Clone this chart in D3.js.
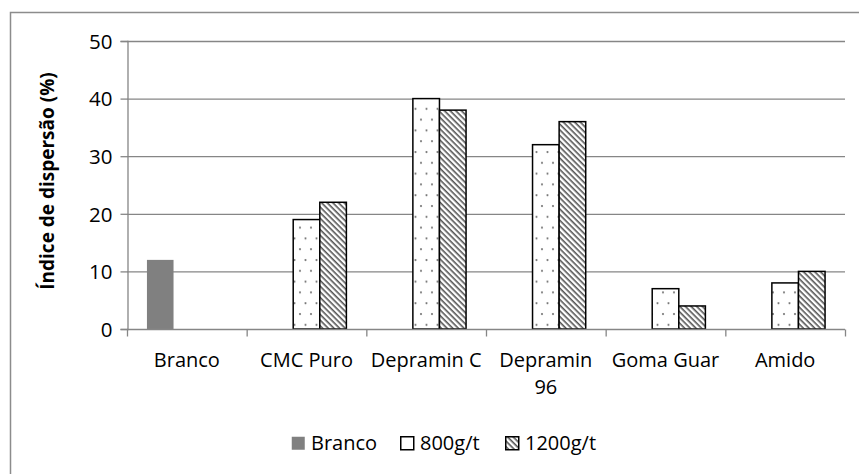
<!DOCTYPE html>
<html>
<head>
<meta charset="utf-8">
<script src="https://cdn.jsdelivr.net/npm/d3@7"></script>
<style>
  body { margin: 0; background: #fff; }
  text { font-family: "Open Sans", sans-serif; fill: #000; }
</style>
</head>
<body>
<div id="chart"></div>
<script>
// data
var categories = ["Branco", "CMC Puro", "Depramin C", "Depramin 96", "Goma Guar", "Amido"];
var seriesNames = ["Branco", "800g/t", "1200g/t"];
var branco = [12, null, null, null, null, null];
var g800 = [null, 19, 40, 32, 7, 8];
var g1200 = [null, 22, 38, 36, 4, 10];
var yTicks = [0, 10, 20, 30, 40, 50];

var seriesValues = [branco, g800, g1200];

data = [];
for (var i = 0; i < categories.length; i++) {
	seriesNames.forEach(function(s, j) {
		if (seriesValues[j][i] != null) {
			data.push({ cat: categories[i], series: s, value: seriesValues[j][i] });
		}
	});
}

var W = 859, H = 474;
var margin = { top: 41, right: 14, bottom: 145, left: 127 };
var width = W - margin.left - margin.right;
var height = H - margin.top - margin.bottom;

var svg = d3.select("#chart").append("svg")
	.attr("width", W)
	.attr("height", H);

// patterns for the two dosage series
var defs = svg.append("defs");
var dots = defs.append("pattern")
	.attr("id", "dots")
	.attr("patternUnits", "userSpaceOnUse")
	.attr("width", 11)
	.attr("height", 21.6);
dots.append("rect").attr("width", 11).attr("height", 21.6).attr("fill", "#fff");
dots.append("circle").attr("cx", 2.5).attr("cy", 3).attr("r", 1.1).attr("fill", "#777");
dots.append("circle").attr("cx", 8).attr("cy", 13.8).attr("r", 1.1).attr("fill", "#777");

var hatch = defs.append("pattern")
	.attr("id", "hatch")
	.attr("patternUnits", "userSpaceOnUse")
	.attr("width", 4)
	.attr("height", 4)
	.attr("patternTransform", "rotate(45)");
hatch.append("rect").attr("width", 4).attr("height", 4).attr("fill", "#fff");
hatch.append("rect").attr("width", 4).attr("height", 1.6).attr("fill", "#555");

var fills = { "Branco": "#808080", "800g/t": "url(#dots)", "1200g/t": "url(#hatch)" };
var strokes = { "Branco": "none", "800g/t": "#000", "1200g/t": "#000" };

// outer chart border (only top and left visible in the crop)
svg.append("path")
	.attr("d", "M10.5," + H + "V12.5H" + W)
	.attr("fill", "none")
	.attr("stroke", "#8c8c8c")
	.attr("stroke-width", 1.5);

var chartGroup = svg.append("g")
	.attr("transform", "translate(" + margin.left + "," + margin.top + ")");

var x = d3.scaleBand()
	.range([0, width])
	.domain(categories)
	.padding(0);

var xs = d3.scaleBand()
	.range([0, x.bandwidth()])
	.domain(seriesNames)
	.paddingInner(0)
	.paddingOuter(0.75);

var y = d3.scaleLinear()
	.range([height, 0])
	.domain([0, 50]);

// gridlines
chartGroup.append("g")
	.selectAll("line")
	.data(yTicks.slice(1))
	.enter()
	.append("line")
	.attr("x1", 0)
	.attr("x2", width)
	.attr("y1", d => y(d) + 0.5)
	.attr("y2", d => y(d) + 0.5)
	.attr("stroke", "#868686")
	.attr("stroke-width", 1.3);

// y axis
var yAxis = d3.axisLeft(y).tickValues(yTicks).tickSize(7).tickPadding(6);
var yg = chartGroup.append("g")
	.attr("transform", "translate(0.5,0)")
	.call(yAxis);
yg.select(".domain").attr("stroke", "#868686").attr("stroke-width", 1.3);
yg.selectAll(".tick line").attr("stroke", "#868686").attr("stroke-width", 1.3);
yg.selectAll(".tick text")
	.style("font-size", "20.5px")
	.attr("fill", "#000")
	.attr("dy", "0.36em");
yg.selectAll(".tick text").attr("x", -15);

// bars
chartGroup.selectAll(".bar")
	.data(data)
	.enter()
	.append("rect")
	.classed("bar", true)
	.attr("x", d => x(d.cat) + xs(d.series))
	.attr("y", d => y(d.value))
	.attr("width", xs.bandwidth())
	.attr("height", d => height - y(d.value))
	.attr("fill", d => fills[d.series])
	.attr("stroke", d => strokes[d.series])
	.attr("stroke-width", 1.5);

// x axis: ticks at category boundaries
var xg = chartGroup.append("g")
	.attr("transform", "translate(0," + (height + 0.5) + ")");
xg.append("line")
	.attr("x1", 0).attr("x2", width)
	.attr("stroke", "#868686").attr("stroke-width", 1.3);
var bounds = categories.map(c => x(c)).concat([width]);
xg.selectAll(".xtick")
	.data(bounds)
	.enter()
	.append("line")
	.attr("x1", d => d + 0.5).attr("x2", d => d + 0.5)
	.attr("y1", 0).attr("y2", 7)
	.attr("stroke", "#868686").attr("stroke-width", 1.3);

var labels = xg.selectAll(".xlabel")
	.data(categories)
	.enter()
	.append("text")
	.attr("class", "xlabel")
	.attr("text-anchor", "middle")
	.style("font-size", "20px")
	.attr("x", d => x(d) + x.bandwidth() / 2)
	.attr("y", 37)
	.text(d => d);

// wrap labels that do not fit in the band: last word goes on a second line
labels.each(function(d) {
	var t = d3.select(this);
	if (this.getComputedTextLength() > x.bandwidth() - 4) {
		var words = d.split(" ");
		var last = words.pop();
		t.text(words.join(" "));
		xg.append("text")
			.attr("text-anchor", "middle")
			.style("font-size", "20px")
			.attr("x", t.attr("x"))
			.attr("y", 37 + 27)
			.text(last);
	}
});

// y title
svg.append("text")
	.attr("transform", "translate(54," + (margin.top + height / 2 - 4) + ") rotate(-90)")
	.attr("text-anchor", "middle")
	.style("font-size", "19px")
	.style("font-weight", "bold")
	.text("Índice de dispersão (%)");

// legend
var legend = svg.append("g")
	.attr("transform", "translate(0,443)");
var legX = [291, 400, 505];
seriesNames.forEach(function(s, j) {
	legend.append("rect")
		.attr("x", legX[j] + 0.75)
		.attr("y", -6.25)
		.attr("width", 13)
		.attr("height", 13)
		.attr("fill", s === "Branco" ? fills[s] : (s === "800g/t" ? "#fff" : "url(#hatch)"))
		.attr("stroke", s === "Branco" ? "none" : "#000")
		.attr("stroke-width", 1.5);
	legend.append("text")
		.attr("x", legX[j] + 20)
		.attr("y", 0)
		.attr("dy", "0.36em")
		.style("font-size", "20px")
		.text(s);
});
</script>
</body>
</html>
